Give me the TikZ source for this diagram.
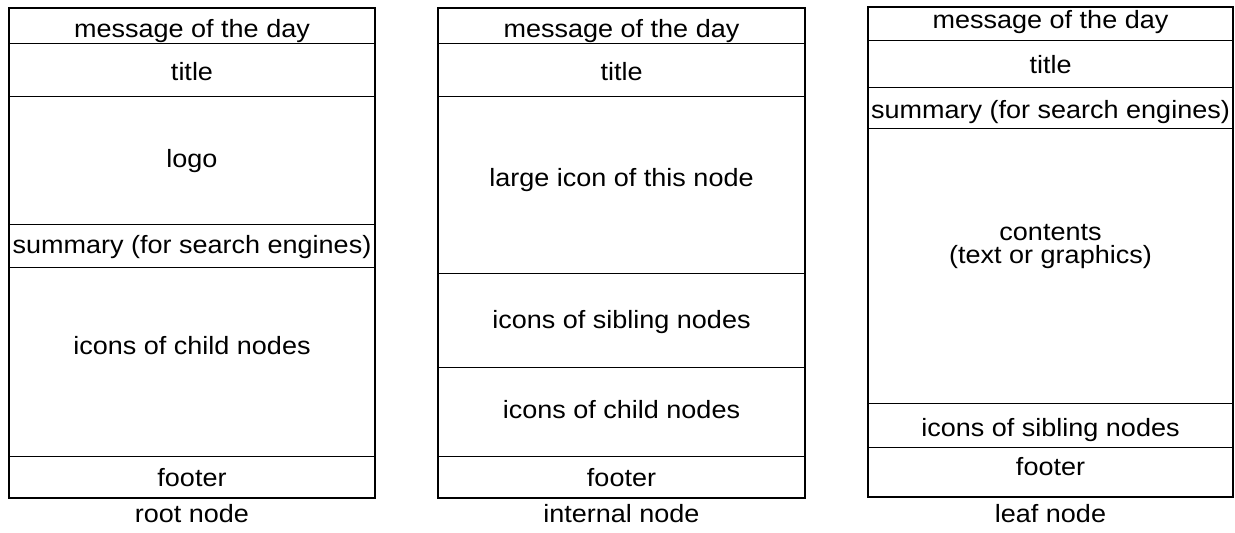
\documentclass[tikz,border=0pt]{standalone}
\usepackage{fontspec}
\setmainfont{Liberation Sans}[FakeStretch=1.08]
\begin{document}
\begin{tikzpicture}[x=0.5pt,y=-0.5pt,
  outer/.style={line width=1pt},
  inner/.style={line width=0.5pt},
  txt/.style={anchor=base,inner sep=0pt,font=\fontsize{12.5}{11.5}\selectfont,align=center,yshift=-0.5pt}]
\useasboundingbox (0,0) rectangle (1235,532);
% root node
\draw[inner] (9,43) -- (375,43) (9,96) -- (375,96) (9,224) -- (375,224) (9,267) -- (375,267) (9,456) -- (375,456);
\draw[outer] (9,8) rectangle (375,498);
\node[txt] (r1) at (192,36) {message of the day};
\node[txt] (r2) at (192,79) {title};
\node[txt] (r3) at (192,166) {logo};
\node[txt] (r4) at (192,252) {summary (for search engines)};
\node[txt] (r5) at (192,353) {icons of child nodes};
\node[txt] (r6) at (192,485) {footer};
\node[txt] (rl) at (192,521) {root node};
% internal node
\draw[inner] (438,43) -- (805,43) (438,96) -- (805,96) (438,273) -- (805,273) (438,367) -- (805,367) (438,456) -- (805,456);
\draw[outer] (438,8) rectangle (805,498);
\node[txt] (i1) at (621.5,36) {message of the day};
\node[txt] (i2) at (621.5,79) {title};
\node[txt] (i3) at (621.5,185) {large icon of this node};
\node[txt] (i4) at (621.5,327) {icons of sibling nodes};
\node[txt] (i5) at (621.5,417) {icons of child nodes};
\node[txt] (i6) at (621.5,485) {footer};
\node[txt] (il) at (621.5,521) {internal node};
% leaf node
\draw[inner] (868,40) -- (1233,40) (868,87) -- (1233,87) (868,128) -- (1233,128) (868,403) -- (1233,403) (868,447) -- (1233,447);
\draw[outer] (868,7) rectangle (1233,497);
\node[txt] (l1) at (1050.5,27) {message of the day};
\node[txt] (l2) at (1050.5,72) {title};
\node[txt] (l3) at (1050.5,117) {summary (for search engines)};
\node[txt] (l4) at (1050.5,262) {contents\\(text or graphics)};
\node[txt] (l5) at (1050.5,435) {icons of sibling nodes};
\node[txt] (l6) at (1050.5,474) {footer};
\node[txt] (ll) at (1050.5,521) {leaf node};
\end{tikzpicture}
\end{document}
